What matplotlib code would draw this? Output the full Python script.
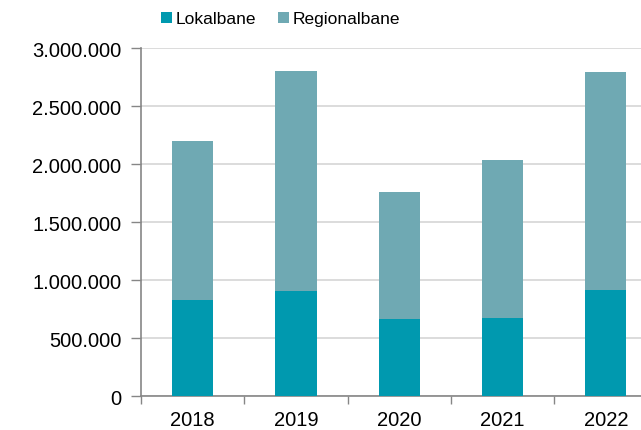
import matplotlib.pyplot as plt
import numpy as np
from matplotlib.ticker import FuncFormatter

plt.rcParams['font.family'] = ['Liberation Sans', 'DejaVu Sans']

years = ['2018', '2019', '2020', '2021', '2022']
lokalbane = [833000, 910000, 669000, 672000, 919000]
totals = [2201000, 2802000, 1761000, 2034000, 2798000]
regionalbane = [t - l for t, l in zip(totals, lokalbane)]

c_lokal = '#0099AF'
c_region = '#6FA9B3'

fig = plt.figure(figsize=(6.41, 4.31), dpi=100)
ax = fig.add_axes([0.22, 0.0782, 0.8057, 0.8074])

x = np.arange(len(years))
ax.bar(x, lokalbane, width=0.4, color=c_lokal, linewidth=0,
       label='Lokalbane', zorder=3)
ax.bar(x, regionalbane, width=0.4, bottom=lokalbane, color=c_region,
       linewidth=0, label='Regionalbane', zorder=3)

ax.set_xlim(-0.5, 4.5)
ax.set_ylim(0, 3000000)
ax.set_yticks(np.arange(0, 3000001, 500000))
ax.yaxis.set_major_formatter(FuncFormatter(lambda v, p: f'{int(v):,}'.replace(',', '.')))
ax.yaxis.grid(True, color='#D9D9D9', linewidth=1.3, zorder=0)

ax.set_xticks(x)
ax.set_xticklabels(years)
ax.set_xticks(np.arange(-0.5, 4.6, 1), minor=True)
ax.tick_params(axis='x', which='major', length=0, labelsize=14.5, pad=10)
ax.tick_params(axis='x', which='minor', length=6, color='#868686', width=1)
ax.tick_params(axis='y', length=7, color='#868686', width=1, labelsize=14.5, pad=7)

for s in ['top', 'right']:
    ax.spines[s].set_visible(False)
for s in ['left', 'bottom']:
    ax.spines[s].set_color('#868686')
    ax.spines[s].set_linewidth(1.2)

fig.legend(loc='center', bbox_to_anchor=(0.4376, 0.954), ncol=2, frameon=False,
           fontsize=12.5, handlelength=0.6, handleheight=0.6, handletextpad=0.2,
           columnspacing=1.3)

fig.savefig('out.png', dpi=100)
